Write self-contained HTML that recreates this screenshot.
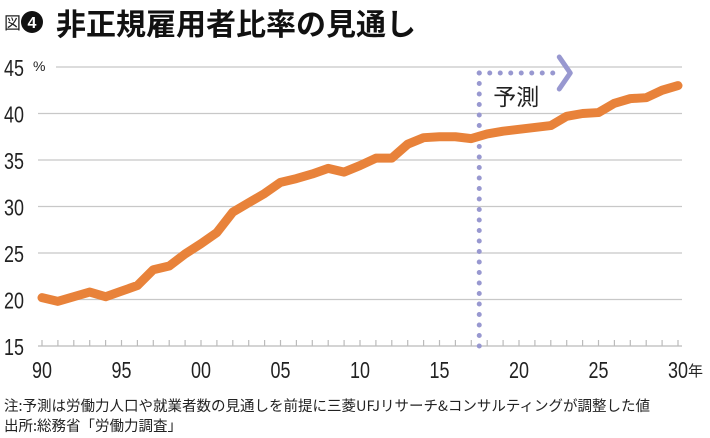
<!DOCTYPE html>
<html><head><meta charset="utf-8"><style>
body{margin:0;background:#fff;width:710px;height:438px;overflow:hidden;font-family:"Liberation Sans","Noto Sans CJK JP",sans-serif}
svg{position:absolute;left:0;top:0}
</style></head><body>
<svg width="710" height="438" id="c">
<text x="4" y="29" font-size="17" fill="#222" font-family="Noto Sans CJK JP,sans-serif">図</text>
<circle cx="32" cy="22" r="11" fill="#111"/>
<text x="32" y="28" font-size="16" fill="#fff" text-anchor="middle" font-weight="bold">4</text>
<text x="56" y="35" font-size="30" font-weight="bold" fill="#111" font-family="Noto Sans CJK JP,sans-serif">非正規雇用者比率の見通し</text>
<g id="grid"></g><g id="xt"></g><g id="yt"></g>
<g id="proj"></g>
<polyline id="line" fill="none" stroke="#e8823a" stroke-width="9" stroke-linejoin="round" stroke-linecap="round"/>
<text x="4" y="411" font-size="14.5" fill="#222" font-family="Noto Sans CJK JP,sans-serif">注:予測は労働力人口や就業者数の見通しを前提に三菱UFJリサーチ&amp;コンサルティングが調整した値</text>
<text x="4" y="431" font-size="14.5" fill="#222" font-family="Noto Sans CJK JP,sans-serif">出所:総務省「労働力調査」</text>
</svg>
<script>
const years=[1990,1991,1992,1993,1994,1995,1996,1997,1998,1999,2000,2001,2002,2003,2004,2005,2006,2007,2008,2009,2010,2011,2012,2013,2014,2015,2016,2017,2018,2019,2020,2021,2022,2023,2024,2025,2026,2027,2028,2029,2030];
const ratio=[20.2,19.8,20.3,20.8,20.3,20.9,21.5,23.2,23.6,24.9,26.0,27.2,29.4,30.4,31.4,32.6,33.0,33.5,34.1,33.7,34.4,35.2,35.2,36.7,37.4,37.5,37.5,37.3,37.8,38.1,38.3,38.5,38.7,39.7,40.0,40.1,41.1,41.6,41.7,42.5,43.0];
const yTicks=[15,20,25,30,35,40,45];
const xLabels=["90","95","00","05","10","15","20","25","30"];
const xLabelYears=[1990,1995,2000,2005,2010,2015,2020,2025,2030];
const forecastStart=2017.5;
const NS="http://www.w3.org/2000/svg";
const X=y=>42+(y-1990)*(636/40);
const Y=v=>346-(v-15)*(279/30);
function mk(t,a,p){const e=document.createElementNS(NS,t);for(const k in a)e.setAttribute(k,a[k]);p.appendChild(e);return e;}
const grid=document.getElementById('grid'),yt=document.getElementById('yt'),xt=document.getElementById('xt'),proj=document.getElementById('proj');
yTicks.forEach(v=>{
 if(v>15){const l=mk('line',{x1:v==45?56:38,x2:682,y1:Y(v),y2:Y(v),stroke:'#c8c8c8','stroke-width':1.2},grid);
 
 }
 const t=mk('text',{x:4/0.78,y:Y(v)+9,'font-size':23,fill:'#222',transform:'scale(0.78,1)'},yt);
 t.textContent=v;
 
 
});
const pct=mk('text',{x:33,y:Y(45)+4,'font-size':14,fill:'#222'},yt);pct.textContent='%';


const ax=mk('line',{x1:38,x2:682,y1:346,y2:346,stroke:'#bbb','stroke-width':1.2},xt);


years.forEach(y=>{const l=mk('line',{x1:X(y),x2:X(y),y1:340,y2:346,stroke:'#bbb','stroke-width':1.2},xt);
 
 });
xLabels.forEach((s,i)=>{const t=mk('text',{x:X(xLabelYears[i])/0.78,y:378,'font-size':23,fill:'#222','text-anchor':'middle',transform:'scale(0.78,1)'},xt);
 t.textContent=s;
 
 });
const nen=mk('text',{x:688,y:376,'font-size':15,fill:'#222','font-family':'Noto Sans CJK JP,sans-serif'},xt);nen.textContent='年';


const fx=X(forecastStart);
const vl=mk('line',{x1:fx,x2:fx,y1:73,y2:350,stroke:'#9898d0','stroke-width':5,'stroke-linecap':'round','stroke-dasharray':'0 10.5'},proj);


const hl=mk('line',{x1:fx,x2:fx+78,y1:73,y2:73,stroke:'#9898d0','stroke-width':5,'stroke-linecap':'round','stroke-dasharray':'0 10.5'},proj);


const ch=mk('polyline',{points:`${fx+80},57 ${fx+91},73 ${fx+80},89`,fill:'none',stroke:'#9898d0','stroke-width':5,'stroke-linecap':'round','stroke-linejoin':'round'},proj);


const pt=mk('text',{x:fx+14,y:105,'font-size':23,fill:'#222','font-family':'Noto Sans CJK JP,sans-serif'},proj);pt.textContent='予測';


document.getElementById('line').setAttribute('points',years.map((y,i)=>X(y)+','+Y(ratio[i])).join(' '));
</script>
</body></html>
